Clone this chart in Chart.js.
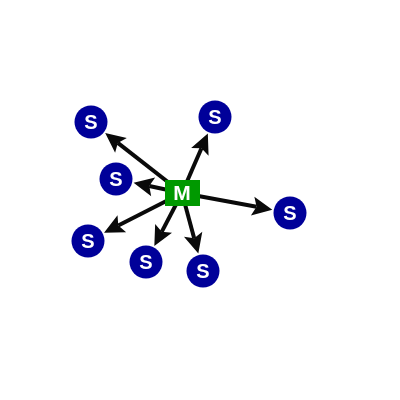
<!DOCTYPE html>
<html>
<head>
<meta charset="utf-8">
<script src="https://cdn.jsdelivr.net/npm/chart.js@4/dist/chart.umd.min.js"></script>
<style>
  html, body { margin: 0; padding: 0; background: #fff; }
  #wrap { width: 400px; height: 400px; }
</style>
</head>
<body>
<div id="wrap"><canvas id="chart"></canvas></div>
<script>
// Node positions (diagram units, y grows downward)
const masterLabel = 'M';
const masterX = [182];
const masterY = [193];

const slaveLabels = ['S', 'S', 'S', 'S', 'S', 'S', 'S'];
const slaveX = [91, 215, 116, 290, 88, 146, 203];
const slaveY = [122, 117, 179, 213, 241, 262, 271];

// Master box drawn as a canvas point style
const masterBox = document.createElement('canvas');
masterBox.width = 35;
masterBox.height = 26;
const mctx = masterBox.getContext('2d');
mctx.fillStyle = '#009900';
mctx.fillRect(0, 0, 35, 26);

/**
 * Arrows from master to each slave, drawn under the nodes
 */
const arrowPlugin = {
  id: 'arrows',
  beforeDatasetsDraw(chart) {
    const ctx = chart.ctx;
    const sx = chart.scales.x;
    const sy = chart.scales.y;
    const mx = sx.getPixelForValue(masterX[0]);
    const my = sy.getPixelForValue(masterY[0]);
    const gap = 18;
    const headLen = 20;
    const headHalf = 9.5;

    ctx.save();
    ctx.strokeStyle = '#0a0a0a';
    ctx.fillStyle = '#0a0a0a';
    ctx.lineWidth = 4;
    slaveX.forEach((x, i) => {
      const px = sx.getPixelForValue(x);
      const py = sy.getPixelForValue(slaveY[i]);
      const dx = px - mx;
      const dy = py - my;
      const len = Math.sqrt(dx * dx + dy * dy);
      const ux = dx / len;
      const uy = dy / len;
      const tipX = px - ux * gap;
      const tipY = py - uy * gap;
      const baseX = tipX - ux * headLen;
      const baseY = tipY - uy * headLen;

      ctx.beginPath();
      ctx.moveTo(mx, my);
      ctx.lineTo(baseX + ux * 4, baseY + uy * 4);
      ctx.stroke();

      ctx.beginPath();
      ctx.moveTo(tipX, tipY);
      ctx.lineTo(baseX - uy * headHalf, baseY + ux * headHalf);
      ctx.lineTo(baseX + ux * 4, baseY + uy * 4);
      ctx.lineTo(baseX + uy * headHalf, baseY - ux * headHalf);
      ctx.closePath();
      ctx.fill();
    });
    ctx.restore();
  }
};

/**
 * White letters on top of the nodes
 */
const letterPlugin = {
  id: 'letters',
  afterDatasetsDraw(chart) {
    const ctx = chart.ctx;
    const sx = chart.scales.x;
    const sy = chart.scales.y;
    ctx.save();
    ctx.fillStyle = '#fff';
    ctx.textAlign = 'center';
    ctx.textBaseline = 'middle';

    ctx.font = 'bold 20px "Liberation Sans", Arial, sans-serif';
    slaveX.forEach((x, i) => {
      ctx.fillText(slaveLabels[i], sx.getPixelForValue(x), sy.getPixelForValue(slaveY[i]) + 1);
    });

    ctx.font = 'bold 21px "Liberation Sans", Arial, sans-serif';
    ctx.fillText(masterLabel, sx.getPixelForValue(masterX[0]), sy.getPixelForValue(masterY[0]) + 1);
    ctx.restore();
  }
};

new Chart(document.getElementById('chart'), {
  type: 'scatter',
  data: {
    datasets: [
      {
        label: 'Slaves',
        data: slaveX.map((x, i) => ({ x: x, y: slaveY[i] })),
        pointStyle: 'circle',
        pointRadius: 16.5,
        pointHoverRadius: 16.5,
        backgroundColor: '#000099',
        borderWidth: 0
      },
      {
        label: 'Master',
        data: masterX.map((x, i) => ({ x: x, y: masterY[i] })),
        pointStyle: masterBox,
        pointRadius: 18,
        borderWidth: 0
      }
    ]
  },
  options: {
    responsive: true,
    maintainAspectRatio: false,
    animation: false,
    devicePixelRatio: 1,
    layout: { padding: 0, autoPadding: false },
    plugins: {
      legend: { display: false },
      tooltip: { enabled: false }
    },
    scales: {
      x: { type: 'linear', min: 0, max: 400, display: false },
      y: { type: 'linear', min: 0, max: 400, reverse: true, display: false }
    }
  },
  plugins: [arrowPlugin, letterPlugin]
});
</script>
</body>
</html>
